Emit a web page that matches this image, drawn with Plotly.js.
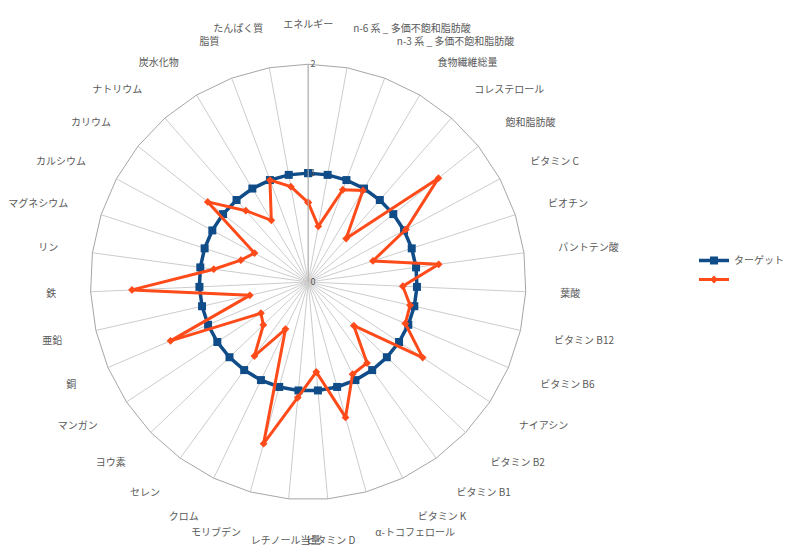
<!DOCTYPE html>
<html>
<head>
<meta charset="utf-8">
<script src="https://cdn.plot.ly/plotly-3.0.1.min.js"></script>
<style>
html,body{margin:0;padding:0;background:#fff;}
#chart{width:789px;height:551px;}
</style>
</head>
<body>
<div id="chart"></div>
<script>
// Categories in clockwise order starting from the top
const categories = [
  "エネルギー", "n-6 系 _ 多価不飽和脂肪酸", "n-3 系 _ 多価不飽和脂肪酸", "食物繊維総量",
  "コレステロール", "飽和脂肪酸", "ビタミン C", "ビオチン", "パントテン酸", "葉酸",
  "ビタミン B12", "ビタミン B6", "ナイアシン", "ビタミン B2", "ビタミン B1", "ビタミン K",
  "α-トコフェロール", "ビタミン D", "レチノール当量", "モリブデン", "クロム", "セレン",
  "ヨウ素", "マンガン", "銅", "亜鉛", "鉄", "リン", "マグネシウム", "カルシウム",
  "カリウム", "ナトリウム", "炭水化物", "脂質", "たんぱく質"
];
const targetValues = [
  1,1,1,1,1,1,1,1,1,1,1,1,1,1,1,1,1,1,1,1,1,1,1,1,1,1,1,1,1,1,1,1,1,1,1
];
const actualValues = [
  0.73, 0.52, 0.905, 0.98, 0.53, 1.53, 1.02, 0.625, 1.21, 0.87,
  0.96, 0.97, 1.26, 0.58, 0.92, 0.94, 1.29, 0.83, 1.065, 1.54,
  0.48, 0.84, 0.57, 0.52, 1.375, 0.55, 1.62, 0.875, 0.65, 0.56,
  1.18, 0.87, 0.66, 1.0, 0.89
];
const seriesNames = ["ターゲット", " "];
const radialTicks = [0, 1, 2];

function closeLoop(arr) { return arr.concat([arr[0]]); }

const font = "'Noto Sans CJK JP', 'Noto Sans', sans-serif";

const traces = [
  {
    type: "scatterpolar",
    r: closeLoop(targetValues),
    theta: closeLoop(categories),
    name: seriesNames[0],
    mode: "lines+markers",
    line: {color: "#104C88", width: 3.5},
    marker: {symbol: "square", size: 8, color: "#104C88"},
    cliponaxis: false
  },
  {
    type: "scatterpolar",
    r: closeLoop(actualValues),
    theta: closeLoop(categories),
    name: seriesNames[1],
    mode: "lines+markers",
    line: {color: "#FF4A1A", width: 3},
    marker: {symbol: "diamond", size: 6, color: "#FF4A1A"},
    cliponaxis: false
  }
];

const layout = {
  width: 789,
  height: 551,
  margin: {l: 0, r: 0, t: 0, b: 0},
  paper_bgcolor: "#ffffff",
  font: {family: font, size: 10, color: "#595959"},
  showlegend: true,
  legend: {
    x: 0.905, y: 0.51, xanchor: "left", yanchor: "middle",
    font: {family: font, size: 10, color: "#595959"},
    bgcolor: "rgba(0,0,0,0)",
    itemwidth: 30
  },
  polar: {
    domain: {x: [0.1179, 0.6857], y: [0.0817, 0.8947]},
    bgcolor: "#ffffff",
    gridshape: "linear",
    angularaxis: {
      type: "category",
      categoryorder: "array",
      categoryarray: categories,
      direction: "clockwise",
      rotation: 90,
      showline: true,
      linecolor: "#a6a6a6",
      linewidth: 1,
      gridcolor: "#cccccc",
      gridwidth: 1,
      ticks: "outside",
      ticklen: 32,
      tickcolor: "rgba(0,0,0,0)",
      tickfont: {family: font, size: 10, color: "#595959"}
    },
    radialaxis: {
      range: [0, 2],
      tickvals: radialTicks,
      ticktext: radialTicks.map(String),
      angle: 90,
      tickangle: 90,
      side: "clockwise",
      showline: true,
      linecolor: "#b0b0b0",
      linewidth: 1,
      gridcolor: "#a6a6a6",
      ticks: "",
      tickfont: {family: font, size: 9, color: "#595959"}
    }
  }
};

Plotly.newPlot("chart", traces, layout, {displayModeBar: false, staticPlot: true});
</script>
</body>
</html>
